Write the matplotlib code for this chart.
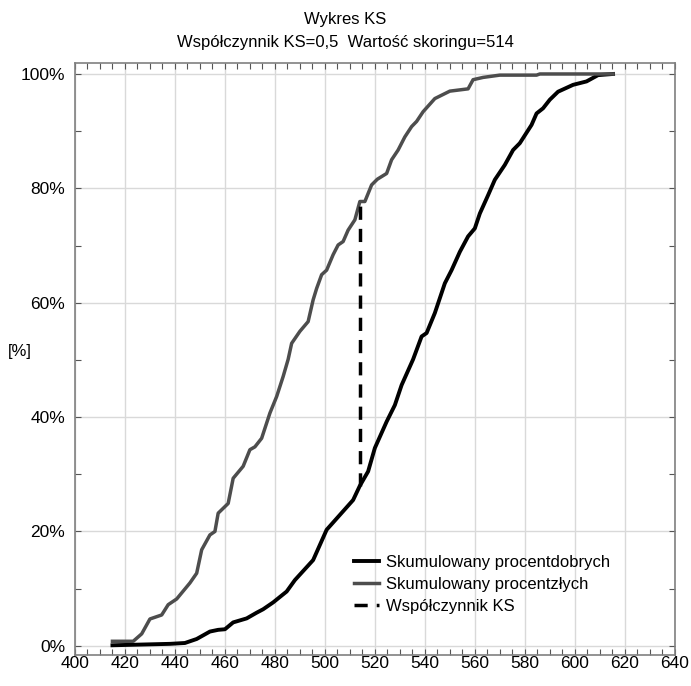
import matplotlib
matplotlib.use("Agg")
import matplotlib.pyplot as plt
from matplotlib.ticker import MultipleLocator, FuncFormatter

plt.rcParams['font.family'] = ['Liberation Sans', 'DejaVu Sans']

# Cumulative percent of "good" (black)
good_x = [415, 438, 444, 448.7, 454, 457.3, 460, 463.3, 468.7, 472.7, 475.3, 479.3,
          484.7, 488, 495.3, 500.7, 506, 511.3, 514, 517.3, 520, 524.7, 528, 530.7,
          535.3, 538.7, 540.7, 544, 548, 550.7, 554, 557.3, 560, 562, 565.3, 568,
          572, 575.3, 578, 582.7, 584.7, 587.3, 590, 593.3, 599.3, 604.7, 609.3, 615.3]
good_y = [0.1, 0.35, 0.5, 1.2, 2.5, 2.8, 2.9, 4.1, 4.8, 5.8, 6.4, 7.6,
          9.5, 11.5, 15, 20.3, 22.9, 25.5, 28, 30.5, 34.6, 39.2, 42.1, 45.6,
          50.1, 54.1, 54.7, 58.2, 63.4, 65.7, 68.9, 71.6, 73, 75.6, 78.8, 81.5,
          84.1, 86.7, 87.9, 91.1, 93.1, 94, 95.5, 96.9, 98.1, 98.7, 99.8, 100]

# Cumulative percent of "bad" (grey)
bad_x = [415, 423.3, 426.7, 430, 434.7, 437.3, 440.7, 446, 448.7, 450.7, 454, 456,
         457.3, 461.3, 463.3, 467.3, 470, 472, 474.7, 478, 480.7, 483.3, 485.3, 486.7,
         490, 493.3, 495.3, 496.7, 498.7, 500.7, 503.3, 505.3, 507.3, 509.3, 512, 514,
         516, 518.7, 521, 524.7, 526.7, 529.3, 532, 534.7, 536.7, 539.3, 544, 550,
         557.3, 559.3, 563.3, 570, 584.7, 586, 615.3]
bad_y = [0.8, 0.8, 2.1, 4.7, 5.4, 7.2, 8.2, 11, 12.7, 16.8, 19.4, 20,
         23.2, 24.9, 29.3, 31.4, 34.3, 34.8, 36.3, 40.7, 43.6, 47.1, 50.1, 52.9,
         55, 56.7, 60.5, 62.5, 64.9, 65.7, 68.4, 70.1, 70.7, 72.7, 74.5, 77.7,
         77.7, 80.6, 81.6, 82.6, 85, 86.7, 89, 90.8, 91.7, 93.4, 95.7, 97,
         97.4, 99, 99.4, 99.8, 99.8, 100, 100]

ks_x = [514, 514]
ks_y = [28, 77.7]

labels = ["Skumulowany procentdobrych", "Skumulowany procentzłych", "Współczynnik KS"]
title = "Wykres KS\nWspółczynnik KS=0,5  Wartość skoringu=514"

fig = plt.figure(figsize=(6.91, 6.86), dpi=100)
# axes from y=63 px (top) to y=655 px (bottom)
ax = fig.add_axes([0.1085, 1 - 655 / 686, 0.868, (655 - 63) / 686])

ax.plot(good_x, good_y, color='black', lw=2.8, label=labels[0], solid_joinstyle='round')
ax.plot(bad_x, bad_y, color='#4d4d4d', lw=2.5, label=labels[1], solid_joinstyle='round')
ax.plot(ks_x, ks_y, color='black', lw=2.5, dashes=(3.8, 2.6), label=labels[2])

ax.set_xlim(400, 640)
ax.set_ylim(-1.6, 101.92)
ax.xaxis.set_major_locator(MultipleLocator(20))
ax.xaxis.set_minor_locator(MultipleLocator(5))
ax.yaxis.set_major_locator(MultipleLocator(20))
ax.yaxis.set_minor_locator(MultipleLocator(10))
ax.yaxis.set_major_formatter(FuncFormatter(lambda v, p: f"{v:.0f}%"))

ax.grid(True, which='major', color='#d9d9d9', lw=1)
ax.set_axisbelow(True)
ax.tick_params(which='both', direction='in', top=True, right=True, length=4,
               color='#555555', width=0.8, labelsize=12.5, labelcolor='black')
ax.tick_params(axis='x', which='major', pad=1)
ax.tick_params(axis='y', which='major', pad=7)
for s in ax.spines.values():
    s.set_color('#808080')
    s.set_linewidth(1.2)

ax.set_ylabel("[%]", rotation=0, fontsize=12, labelpad=0)
ax.yaxis.set_label_coords(-0.092, 0.5)

fig.suptitle(title, fontsize=12, y=0.982, linespacing=1.6)

ax.legend(loc='upper left', bbox_to_anchor=(0.44, 0.195), frameon=False,
          fontsize=12, handlelength=1.5, handletextpad=0.45, labelspacing=0.42)

fig.savefig("out.png", dpi=100)
